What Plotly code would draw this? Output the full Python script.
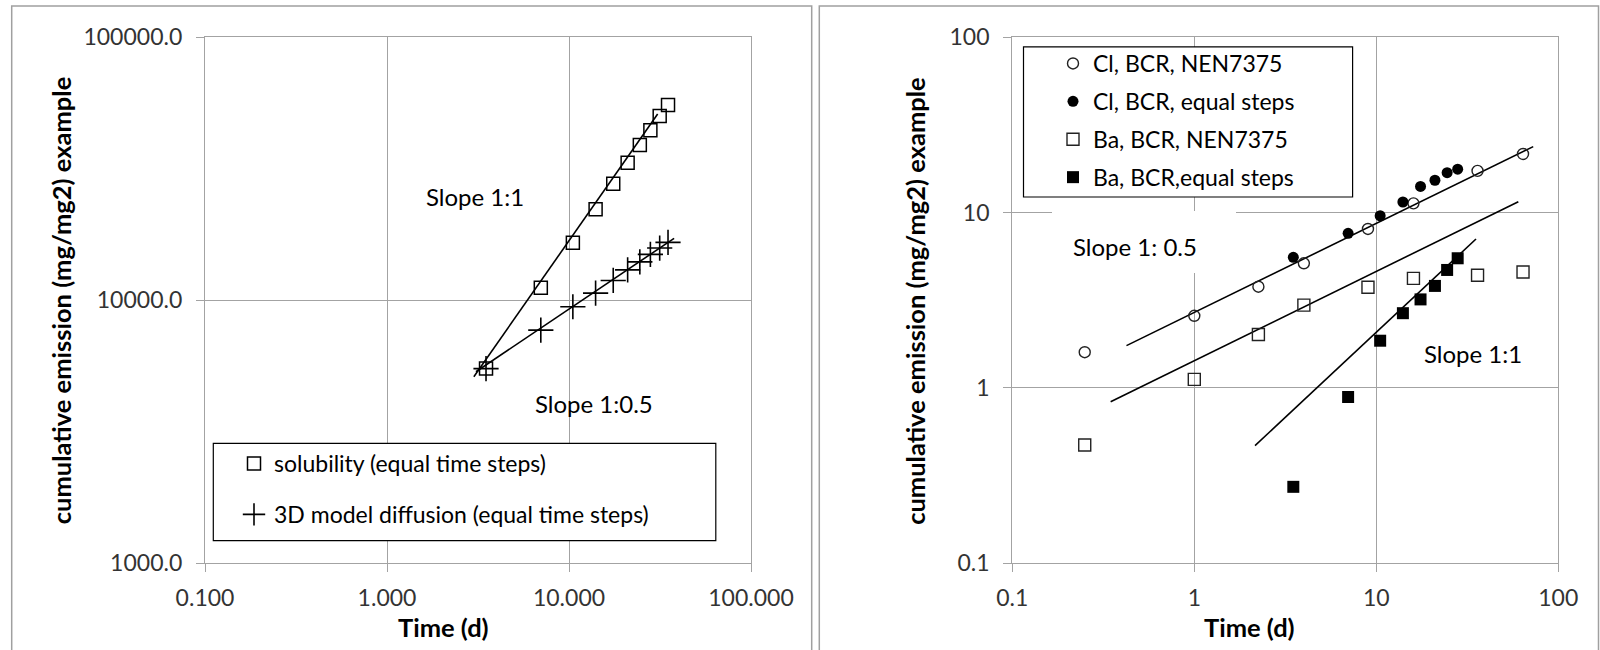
import plotly.graph_objects as go

W, H = 1600, 650

# ---------------- Left chart data ----------------
t_equal = [3.5, 7, 10.5, 14, 17.5, 21, 24.5, 28, 31.5, 35]
solubility = [5500, 11150, 16550, 22200, 27750, 33350, 38950, 44300, 50200, 55300]
diffusion_3d = [5500, 7700, 9450, 10650, 11900, 13050, 14000, 14950, 15800, 16600]
slope1_left_t = [3.0, 30.7]
slope1_left_y = [5120, 51100]
slope05_left_t = [3.08, 37.8]
slope05_left_y = [5350, 17200]
left_xticks = [0.1, 1, 10, 100]
left_xticktext = ["0.100", "1.000", "10.000", "100.000"]
left_yticks = [1000, 10000, 100000]
left_yticktext = ["1000.0", "10000.0", "100000.0"]

# ---------------- Right chart data ----------------
t_nen = [0.25, 1, 2.25, 4, 9, 16, 36, 64]
cl_nen = [1.60, 2.58, 3.78, 5.14, 8.07, 11.3, 17.3, 21.6]
ba_nen = [0.473, 1.12, 2.02, 2.97, 3.75, 4.22, 4.39, 4.59]
t_eq = [3.5, 7, 10.5, 14, 17.5, 21, 24.5, 28]
cl_eq = [5.56, 7.62, 9.6, 11.5, 14.1, 15.3, 16.9, 17.7]
ba_eq = [0.273, 0.888, 1.86, 2.67, 3.20, 3.82, 4.71, 5.49]
lineA_t = [0.424, 72.8]
lineA_y = [1.744, 23.8]
lineB_t = [0.347, 60.3]
lineB_y = [0.835, 11.54]
lineC_t = [2.156, 35.3]
lineC_y = [0.469, 7.07]
right_xticks = [0.1, 1, 10, 100]
right_xticktext = ["0.1", "1", "10", "100"]
right_yticks = [0.1, 1, 10, 100]
right_yticktext = ["0.1", "1", "10", "100"]


def fx(px):
    return px / W


def fy(py):
    return 1 - py / H


FONT = "Lato"
GRID = "#a3a3a3"
TXT = "#333333"

fig = go.Figure()

line_style = dict(color="black", width=1.6)

fig.add_trace(go.Scatter(x=slope1_left_t, y=slope1_left_y, mode="lines", line=line_style,
                         xaxis="x", yaxis="y", showlegend=False, hoverinfo="skip"))
fig.add_trace(go.Scatter(x=slope05_left_t, y=slope05_left_y, mode="lines", line=line_style,
                         xaxis="x", yaxis="y", showlegend=False, hoverinfo="skip"))
fig.add_trace(go.Scatter(x=t_equal, y=solubility, mode="markers", name="solubility (equal time steps)",
                         marker=dict(symbol="square-open", size=13, color="black", line=dict(width=1.5)),
                         xaxis="x", yaxis="y", legend="legend", legendgroup="a"))
fig.add_trace(go.Scatter(x=t_equal, y=diffusion_3d, mode="markers", name="3D model diffusion (equal time steps)",
                         marker=dict(symbol="cross-thin", size=18, color="black",
                                     line=dict(width=1.6, color="black")),
                         xaxis="x", yaxis="y", legend="legend", legendgroup="b"))

for tt, yy in [(lineA_t, lineA_y), (lineB_t, lineB_y), (lineC_t, lineC_y)]:
    fig.add_trace(go.Scatter(x=tt, y=yy, mode="lines", line=line_style,
                             xaxis="x2", yaxis="y2", showlegend=False, hoverinfo="skip"))
fig.add_trace(go.Scatter(x=t_nen, y=cl_nen, mode="markers", name="Cl, BCR, NEN7375",
                         marker=dict(symbol="circle-open", size=11, color="#222", line=dict(width=1.4)),
                         xaxis="x2", yaxis="y2", legend="legend2", legendgroup="c"))
fig.add_trace(go.Scatter(x=t_eq, y=cl_eq, mode="markers", name="Cl, BCR, equal steps",
                         marker=dict(symbol="circle", size=11, color="black"),
                         xaxis="x2", yaxis="y2", legend="legend2", legendgroup="d"))
fig.add_trace(go.Scatter(x=t_nen, y=ba_nen, mode="markers", name="Ba, BCR, NEN7375",
                         marker=dict(symbol="square-open", size=12, color="#222", line=dict(width=1.4)),
                         xaxis="x2", yaxis="y2", legend="legend2", legendgroup="e"))
fig.add_trace(go.Scatter(x=t_eq, y=ba_eq, mode="markers", name="Ba, BCR,equal steps",
                         marker=dict(symbol="square", size=12, color="black"),
                         xaxis="x2", yaxis="y2", legend="legend2", legendgroup="f"))

ydom = [fy(563.3), fy(37.3)]


def axis(domain, rng, tv, tt, anchor, standoff):
    return dict(type="log", range=rng, domain=domain, anchor=anchor, automargin=False,
                tickmode="array", tickvals=tv, ticktext=tt,
                showgrid=True, gridcolor=GRID, gridwidth=1.3,
                showline=True, mirror=True, linecolor=GRID, linewidth=1.3,
                ticks="outside", ticklen=8, tickcolor=GRID, tickwidth=1.3,
                tickfont=dict(family=FONT, size=23, color=TXT),
                ticklabelstandoff=standoff, zeroline=False, minor=dict(showgrid=False))


shapes = [
    # panel borders
    dict(type="rect", xref="paper", yref="paper", x0=fx(11.7), x1=fx(811.7), y0=-0.05, y1=fy(6),
         line=dict(color="#a0a0a0", width=1.5), layer="below"),
    dict(type="rect", xref="paper", yref="paper", x0=fx(819.3), x1=fx(1598.5), y0=-0.05, y1=fy(6),
         line=dict(color="#a0a0a0", width=1.5), layer="below"),
    # legend boxes
    dict(type="rect", xref="paper", yref="paper", x0=fx(213.3), x1=fx(715.8), y0=fy(540.6), y1=fy(443.3),
         line=dict(color="black", width=1.2), fillcolor="white", layer="above"),
    dict(type="rect", xref="paper", yref="paper", x0=fx(1023.5), x1=fx(1352.6), y0=fy(197), y1=fy(46.9),
         line=dict(color="black", width=1.2), fillcolor="white", layer="above"),
    # white background behind right-hand slope label
    dict(type="rect", xref="paper", yref="paper", x0=fx(1052), x1=fx(1236), y0=fy(273), y1=fy(211),
         line=dict(width=0), fillcolor="white", layer="above"),
]


def ann(text, x, y, size=24, angle=0):
    return dict(text=text, x=fx(x), y=fy(y), xref="paper", yref="paper", showarrow=False,
                xanchor="center", yanchor="middle", textangle=angle,
                font=dict(family=FONT, size=size, color="black"))


annotations = [
    ann("Slope 1:1", 474.5, 196.5),
    ann("Slope 1:0.5", 594.4, 404),
    ann("Slope 1: 0.5", 1135, 246.5),
    ann("Slope 1:1", 1472.5, 353),
    ann("<b>Time (d)</b>", 443, 626.6, size=25.5),
    ann("<b>Time (d)</b>", 1249, 626.6, size=25.5),
    ann("<b>cumulative emission (mg/mg2) example</b>", 61.2, 301, size=25.5, angle=-90),
    ann("<b>cumulative emission (mg/mg2) example</b>", 914.8, 301, size=25.5, angle=-90),
]

fig.update_layout(
    width=W, height=H, autosize=False,
    margin=dict(l=0, r=0, t=0, b=0, autoexpand=False),
    paper_bgcolor="white", plot_bgcolor="white",
    xaxis=axis([fx(205), fx(751)], [-1, 2], left_xticks, left_xticktext, "y", 6),
    yaxis=axis(ydom, [3, 5], left_yticks, left_yticktext, "x", 9),
    xaxis2=axis([fx(1012.3), fx(1558.3)], [-1, 2], right_xticks, right_xticktext, "y2", 6),
    yaxis2=axis(ydom, [-1, 2], right_yticks, right_yticktext, "x2", 9),
    legend=dict(x=fx(234), y=fy(442), xanchor="left", yanchor="top", bgcolor="rgba(0,0,0,0)",
                borderwidth=0, font=dict(family=FONT, size=23, color="black"),
                traceorder="grouped", tracegroupgap=18, itemsizing="trace"),
    legend2=dict(x=fx(1053), y=fy(42), xanchor="left", yanchor="top", bgcolor="rgba(0,0,0,0)",
                 borderwidth=0, font=dict(family=FONT, size=23, color="black"),
                 traceorder="grouped", tracegroupgap=5, itemsizing="trace"),
    shapes=shapes,
    annotations=annotations,
    showlegend=True,
)

fig.write_html("out.html")
